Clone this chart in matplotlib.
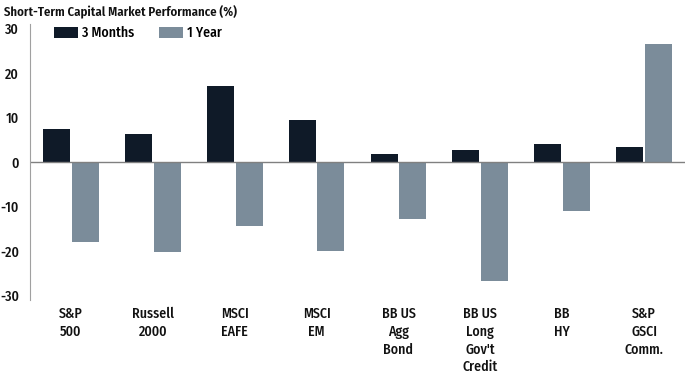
import numpy as np
import matplotlib
matplotlib.use("Agg")
import matplotlib.pyplot as plt

categories = ["S&P\n500", "Russell\n2000", "MSCI\nEAFE", "MSCI\nEM",
              "BB US\nAgg\nBond", "BB US\nLong\nGov't\nCredit", "BB\nHY",
              "S&P\nGSCI\nComm."]
three_months = [7.4, 6.2, 17.0, 9.5, 1.9, 2.7, 4.1, 3.3]
one_year = [-18.0, -20.3, -14.4, -19.9, -12.9, -26.8, -11.1, 26.4]
yticks = [-30, -20, -10, 0, 10, 20, 30]

plt.rcParams['font.family'] = ['Fira Sans Condensed', 'DejaVu Sans']

dark = "#0f1a28"
grey = "#7b8c9a"
txt = "#111111"

fig = plt.figure(figsize=(6.91, 3.76), dpi=100)
ax = fig.add_axes([30/691, 76/376, 655/691, 276/376])

x = np.arange(len(categories))
w = 0.33
ax.bar(x - 0.175, three_months, w, color=dark, label="3 Months")
ax.bar(x + 0.175, one_year, w, color=grey, label="1 Year")

ax.set_xlim(-0.5, len(categories) - 0.5)
ax.set_ylim(-31, 31)
ax.axhline(0, color="#808080", lw=1)

for s in ["top", "right", "bottom"]:
    ax.spines[s].set_visible(False)
ax.spines["left"].set_color("#a0a0a0")

ax.set_yticks(yticks)
ax.set_yticklabels([str(t) for t in yticks], fontsize=10, fontweight="medium", color=txt)
ax.set_xticks(x)
ax.set_xticklabels(categories, fontsize=10, fontweight="medium", color=txt,
                   linespacing=1.32, va="top")
ax.tick_params(axis="both", length=0)
ax.tick_params(axis="x", pad=5)
ax.tick_params(axis="y", pad=8)

ax.legend(loc="upper left", bbox_to_anchor=(0.028, 1.012), ncol=2, frameon=False,
          prop={"size": 10, "weight": "medium"}, handlelength=1.75, handleheight=0.9,
          columnspacing=1.75, handletextpad=0.3, borderaxespad=0)

fig.text(4/691, 1 - 12/376, "Short-Term Capital Market Performance (%)", fontsize=9.2,
         fontweight="semibold", color=txt, va="center", ha="left")

fig.savefig("out.png", dpi=100)
